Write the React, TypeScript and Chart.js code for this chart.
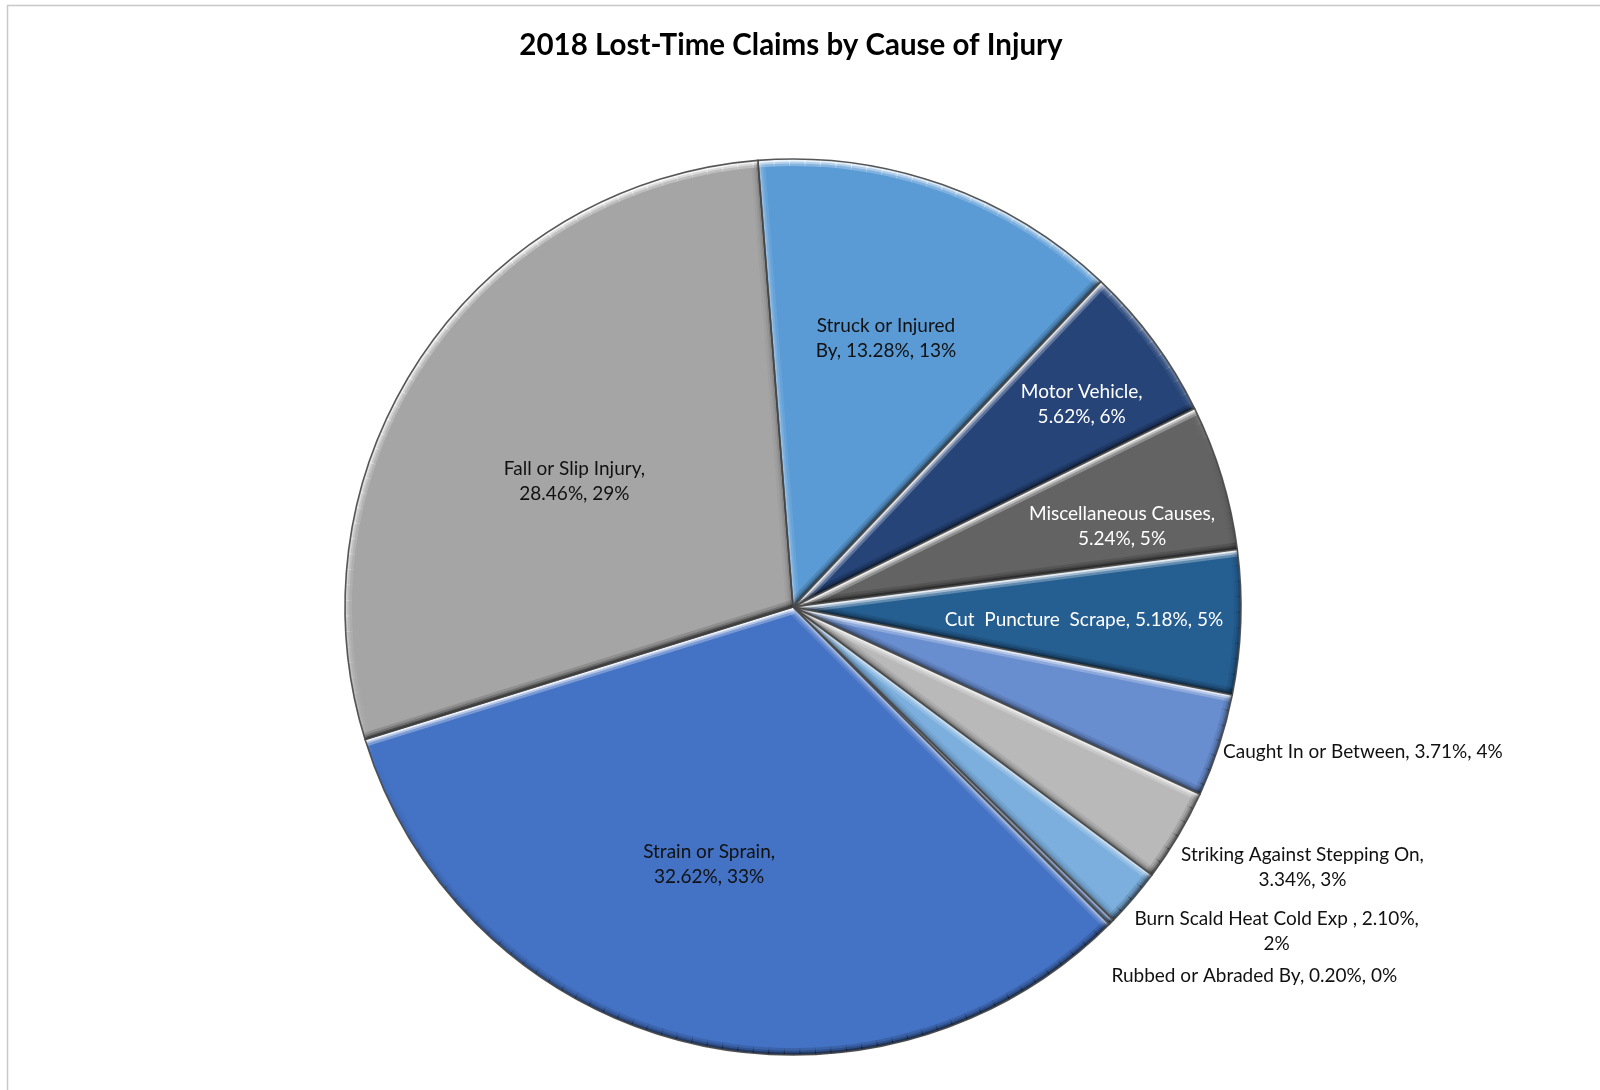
import React, { useEffect, useRef } from 'react';
import { Chart, registerables } from 'chart.js';
Chart.register(...registerables);

const TITLE = '2018 Lost-Time Claims by Cause of Injury';
const categories = [
  'Struck or Injured By',
  'Motor Vehicle',
  'Miscellaneous Causes',
  'Cut  Puncture  Scrape',
  'Caught In or Between',
  'Striking Against Stepping On',
  'Burn Scald Heat Cold Exp ',
  'Rubbed or Abraded By',
  'Strain or Sprain',
  'Fall or Slip Injury',
];
const percentages = [13.28, 5.62, 5.24, 5.18, 3.71, 3.34, 2.1, 0.2, 32.62, 28.46];
const sliceColors = [
  '#5B9BD5', '#264478', '#636363', '#255E91', '#698ED0',
  '#B9B9B9', '#7CAFDD', '#335AA1', '#4472C4', '#A5A5A5',
];
// number of words on the first label line (0 = single line)
const labelBreaks = [3, 2, 2, 0, 0, 4, 7, 0, 3, 4];

type Place =
  | { mode: 'in'; f: number; da: number; color: string }
  | { mode: 'out'; dx: number; dy: number; color: string };

const placements: Place[] = [
  { mode: 'in', f: 0.635, da: -0.4, color: '#111' },
  { mode: 'in', f: 0.787, da: 1.4, color: '#fff' },
  { mode: 'in', f: 0.756, da: 3.1, color: '#fff' },
  { mode: 'in', f: 0.65, da: 0.6, color: '#fff' },
  { mode: 'out', dx: 4, dy: 6, color: '#111' },
  { mode: 'out', dx: 3, dy: 31, color: '#111' },
  { mode: 'out', dx: 1, dy: 33, color: '#111' },
  { mode: 'out', dx: 0, dy: 54, color: '#111' },
  { mode: 'in', f: 0.605, da: 4.1, color: '#111' },
  { mode: 'in', f: 0.563, da: -4.2, color: '#111' },
];

const FONT = '19px Lato, "Open Sans", sans-serif';
const LINE_H = 25;

const total = percentages.reduce((a, b) => a + b, 0);

function labelLines(i: number): string[] {
  const p = percentages[i];
  const full = `${categories[i]}, ${p.toFixed(2)}%, ${Math.round((p / total) * 100)}%`;
  const n = labelBreaks[i];
  if (!n) return [full];
  const words = full.split(' ');
  return [words.slice(0, n).join(' '), words.slice(n).join(' ')];
}

const LIGHT = (() => {
  const x = -0.35, y = -0.94;
  const l = Math.hypot(x, y);
  return { x: x / l, y: y / l };
})();

function shade(nx: number, ny: number, k: number) {
  const s = nx * LIGHT.x + ny * LIGHT.y;
  return s > 0
    ? `rgba(255,255,255,${Math.min(1, 0.95 * s * k).toFixed(3)})`
    : `rgba(0,0,0,${(0.45 * -s * k).toFixed(3)})`;
}

const framePlugin = {
  id: 'frame',
  beforeDraw(chart: any) {
    const ctx = chart.ctx;
    ctx.save();
    ctx.fillStyle = '#fff';
    ctx.fillRect(0, 0, chart.width, chart.height);
    ctx.strokeStyle = '#c8c8c8';
    ctx.lineWidth = 1.5;
    ctx.beginPath();
    ctx.moveTo(7.5, chart.height + 5);
    ctx.lineTo(7.5, 5.5);
    ctx.lineTo(chart.width + 5, 5.5);
    ctx.stroke();
    ctx.restore();
  },
};

const bevelPlugin = {
  id: 'bevel',
  afterDatasetsDraw(chart: any) {
    const ctx = chart.ctx;
    const arcs = chart.getDatasetMeta(0).data;
    const passes = [
      { w: 14, k: 0.3 },
      { w: 9, k: 0.45 },
      { w: 5, k: 0.8 },
    ];
    arcs.forEach((arc: any) => {
      const { x, y, startAngle: sa, endAngle: ea, outerRadius: R } = arc.getProps(
        ['x', 'y', 'startAngle', 'endAngle', 'outerRadius'],
        true
      );
      ctx.save();
      ctx.beginPath();
      ctx.moveTo(x, y);
      ctx.arc(x, y, R, sa, ea);
      ctx.closePath();
      ctx.clip();
      ctx.lineCap = 'butt';
      passes.forEach(({ w, k }) => {
        ctx.lineWidth = w;
        ctx.strokeStyle = shade(Math.sin(sa), -Math.cos(sa), k);
        ctx.beginPath();
        ctx.moveTo(x, y);
        ctx.lineTo(x + R * Math.cos(sa), y + R * Math.sin(sa));
        ctx.stroke();
        ctx.strokeStyle = shade(-Math.sin(ea), Math.cos(ea), k);
        ctx.beginPath();
        ctx.moveTo(x, y);
        ctx.lineTo(x + R * Math.cos(ea), y + R * Math.sin(ea));
        ctx.stroke();
        const step = Math.PI / 90;
        for (let t = sa; t < ea; t += step) {
          const t2 = Math.min(ea, t + step);
          const tm = (t + t2) / 2;
          ctx.strokeStyle = shade(Math.cos(tm), Math.sin(tm), k);
          ctx.beginPath();
          ctx.arc(x, y, R, t, t2 + 0.002);
          ctx.stroke();
        }
      });
      ctx.restore();
      ctx.save();
      ctx.beginPath();
      ctx.moveTo(x, y);
      ctx.arc(x, y, R, sa, ea);
      ctx.closePath();
      ctx.strokeStyle = 'rgba(70,70,70,0.9)';
      ctx.lineWidth = 1.6;
      ctx.lineJoin = 'round';
      ctx.stroke();
      ctx.restore();
    });
  },
};

const labelPlugin = {
  id: 'pieLabels',
  afterDraw(chart: any) {
    const ctx = chart.ctx;
    const arcs = chart.getDatasetMeta(0).data;
    ctx.save();
    ctx.font = 'bold 29.5px Lato, "Open Sans", sans-serif';
    ctx.fillStyle = '#000';
    ctx.textAlign = 'center';
    ctx.textBaseline = 'middle';
    ctx.fillText(TITLE, 791, 45);

    ctx.font = FONT;
    arcs.forEach((arc: any, i: number) => {
      const { x, y, startAngle: sa, endAngle: ea, outerRadius: R } = arc.getProps(
        ['x', 'y', 'startAngle', 'endAngle', 'outerRadius'],
        true
      );
      const pl = placements[i];
      const lines = labelLines(i);
      const widths = lines.map((l) => ctx.measureText(l).width);
      const bw = Math.max(...widths);
      const bh = lines.length * LINE_H;
      const mid = (sa + ea) / 2;
      let cx: number, cy: number;
      if (pl.mode === 'in') {
        const a = mid + (pl.da * Math.PI) / 180;
        cx = x + pl.f * R * Math.cos(a);
        cy = y + pl.f * R * Math.sin(a);
      } else {
        const ax = x + R * Math.cos(mid);
        const ay = y + R * Math.sin(mid);
        cx = ax + pl.dx + bw / 2;
        cy = ay + pl.dy;
      }
      ctx.fillStyle = pl.color;
      ctx.textAlign = 'center';
      ctx.textBaseline = 'middle';
      lines.forEach((l, j) => {
        ctx.fillText(l, cx, cy - bh / 2 + LINE_H / 2 + j * LINE_H);
      });
    });
    ctx.restore();
  },
};

export default function App() {
  const ref = useRef<HTMLCanvasElement>(null);
  useEffect(() => {
    if (!ref.current) return;
    const chart = new Chart(ref.current, {
      type: 'pie',
      data: {
        labels: categories,
        datasets: [
          {
            data: percentages,
            backgroundColor: sliceColors,
            borderWidth: 0,
            hoverOffset: 0,
          },
        ],
      },
      options: {
        animation: false,
        responsive: true,
        maintainAspectRatio: false,
        rotation: -4.5,
        layout: { padding: { top: 159, bottom: 35, left: 345, right: 359 } },
        plugins: {
          legend: { display: false },
          title: { display: false },
          tooltip: { enabled: false },
        },
        events: [],
      },
      plugins: [framePlugin, bevelPlugin, labelPlugin],
    });
    return () => chart.destroy();
  }, []);
  return (
    <div style={{ position: 'fixed', left: 0, top: 0, width: 1600, height: 1090, background: '#fff' }}>
      <canvas ref={ref} />
    </div>
  );
}
